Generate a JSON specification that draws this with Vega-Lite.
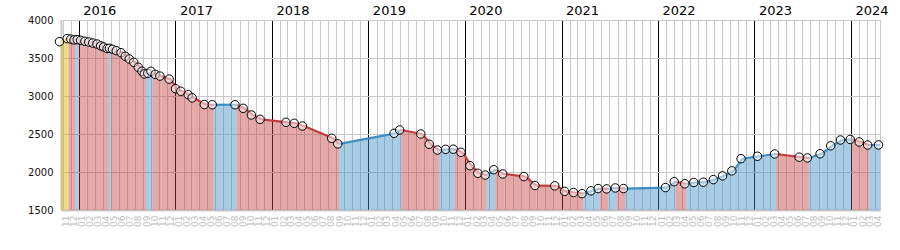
{
  "$schema": "https://vega.github.io/schema/vega-lite/v6.json",
  "width": 819,
  "height": 190,
  "autosize": {"type": "none"},
  "padding": {"left": 61, "top": 20, "right": 20, "bottom": 40},
  "background": "white",
  "config": {
    "font": "DejaVu Sans",
    "view": {"stroke": "#c8c8c8", "strokeWidth": 1},
    "axis": {"gridColor": "#c8c8c8", "gridWidth": 1, "ticks": false, "labelFont": "DejaVu Sans"}
  },
  "data": {
    "format": {"parse": {"d": "date"}},
    "values": [
      {"d": "2015-10-26", "v": 3715},
      {"d": "2015-11-24", "v": 3755},
      {"d": "2015-12-08", "v": 3748},
      {"d": "2015-12-20", "v": 3738},
      {"d": "2016-01-01", "v": 3742},
      {"d": "2016-01-14", "v": 3733},
      {"d": "2016-01-30", "v": 3720},
      {"d": "2016-02-14", "v": 3710},
      {"d": "2016-02-29", "v": 3697},
      {"d": "2016-03-16", "v": 3684},
      {"d": "2016-03-30", "v": 3660},
      {"d": "2016-04-10", "v": 3645},
      {"d": "2016-04-23", "v": 3625},
      {"d": "2016-05-02", "v": 3628},
      {"d": "2016-05-14", "v": 3615},
      {"d": "2016-05-28", "v": 3596},
      {"d": "2016-06-15", "v": 3570},
      {"d": "2016-07-01", "v": 3522},
      {"d": "2016-07-16", "v": 3487},
      {"d": "2016-08-02", "v": 3443},
      {"d": "2016-08-19", "v": 3378},
      {"d": "2016-09-02", "v": 3325},
      {"d": "2016-09-11", "v": 3290},
      {"d": "2016-09-24", "v": 3298},
      {"d": "2016-10-06", "v": 3325},
      {"d": "2016-10-22", "v": 3285},
      {"d": "2016-11-09", "v": 3262},
      {"d": "2016-12-14", "v": 3222},
      {"d": "2017-01-07", "v": 3096},
      {"d": "2017-01-27", "v": 3062},
      {"d": "2017-02-24", "v": 3017},
      {"d": "2017-03-11", "v": 2975},
      {"d": "2017-04-26", "v": 2888},
      {"d": "2017-05-26", "v": 2885},
      {"d": "2017-08-20", "v": 2885},
      {"d": "2017-09-20", "v": 2838},
      {"d": "2017-10-21", "v": 2750},
      {"d": "2017-11-23", "v": 2693},
      {"d": "2018-03-01", "v": 2654},
      {"d": "2018-04-01", "v": 2641},
      {"d": "2018-05-02", "v": 2605},
      {"d": "2018-08-21", "v": 2443},
      {"d": "2018-09-13", "v": 2370},
      {"d": "2019-04-14", "v": 2509},
      {"d": "2019-05-05", "v": 2553},
      {"d": "2019-07-24", "v": 2500},
      {"d": "2019-08-25", "v": 2365},
      {"d": "2019-09-25", "v": 2289},
      {"d": "2019-10-26", "v": 2298},
      {"d": "2019-11-24", "v": 2300},
      {"d": "2019-12-23", "v": 2259},
      {"d": "2020-01-26", "v": 2083},
      {"d": "2020-02-25", "v": 1983},
      {"d": "2020-03-24", "v": 1960},
      {"d": "2020-04-25", "v": 2030},
      {"d": "2020-05-29", "v": 1974},
      {"d": "2020-08-17", "v": 1940},
      {"d": "2020-09-28", "v": 1822},
      {"d": "2020-12-12", "v": 1818},
      {"d": "2021-01-18", "v": 1745},
      {"d": "2021-02-21", "v": 1730},
      {"d": "2021-03-25", "v": 1715},
      {"d": "2021-04-28", "v": 1752},
      {"d": "2021-05-25", "v": 1782},
      {"d": "2021-06-26", "v": 1778},
      {"d": "2021-07-29", "v": 1790},
      {"d": "2021-08-29", "v": 1782},
      {"d": "2022-02-04", "v": 1795},
      {"d": "2022-03-09", "v": 1873},
      {"d": "2022-04-18", "v": 1845},
      {"d": "2022-05-22", "v": 1862},
      {"d": "2022-06-27", "v": 1866},
      {"d": "2022-08-04", "v": 1900},
      {"d": "2022-09-08", "v": 1949},
      {"d": "2022-10-13", "v": 2015},
      {"d": "2022-11-17", "v": 2175},
      {"d": "2023-01-18", "v": 2207},
      {"d": "2023-03-24", "v": 2237},
      {"d": "2023-06-25", "v": 2195},
      {"d": "2023-07-26", "v": 2185},
      {"d": "2023-09-12", "v": 2240},
      {"d": "2023-10-22", "v": 2345},
      {"d": "2023-11-28", "v": 2421},
      {"d": "2024-01-04", "v": 2428},
      {"d": "2024-02-07", "v": 2395},
      {"d": "2024-03-10", "v": 2355},
      {"d": "2024-04-20", "v": 2356}
    ]
  },
  "layer": [
    {
      "transform": [
        {"window": [{"op": "lead", "field": "d", "as": "nd"}, {"op": "lead", "field": "v", "as": "nv"}, {"op": "row_number", "as": "idx"}], "sort": [{"field": "d"}]},
        {"filter": "datum.nd != null"},
        {"calculate": "datum.idx == 1 ? 'start' : (datum.nv < datum.v ? 'down' : 'up')", "as": "dir"},
        {"fold": ["d", "nd"], "as": ["k", "t"]},
        {"calculate": "datum.k == 'd' ? datum.v : datum.nv", "as": "yv"}
      ],
      "mark": {"type": "area", "opacity": 0.45, "line": {"strokeWidth": 2.2}},
      "encoding": {
        "x": {
          "field": "t", "type": "temporal", "title": null,
          "scale": {"type": "utc", "nice": false},
          "axis": {
            "orient": "bottom", "format": "%m", "tickCount": {"interval": "month", "step": 1},
            "labelAngle": 270, "labelFontSize": 9, "labelColor": "#bcbcbc", "labelPadding": 5,
            "labelOffset": 3, "labelOverlap": false, "labelFlush": false, "labelBound": false,
            "grid": true, "gridColor": "#c8c8c8", "domainColor": "#c8c8c8", "domainWidth": 2
          }
        },
        "y": {
          "field": "yv", "type": "quantitative", "title": null,
          "scale": {"domain": [1500, 4000], "nice": false, "zero": false},
          "axis": {
            "orient": "left", "format": "d", "values": [1500, 2000, 2500, 3000, 3500, 4000], "labelFontSize": 10, "labelColor": "#111111",
            "labelPadding": 8, "grid": true, "gridColor": "#c8c8c8", "domainColor": "#c8c8c8", "domainWidth": 2
          }
        },
        "y2": {"datum": 1500},
        "detail": {"field": "idx", "type": "quantitative"},
        "color": {
          "field": "dir", "type": "nominal",
          "scale": {"domain": ["start", "down", "up"], "range": ["#ddad00", "#c33e3e", "#3e8ec3"]},
          "legend": null
        }
      }
    },
    {
      "mark": {"type": "circle", "size": 72, "fill": "white", "fillOpacity": 0.5, "stroke": "black", "strokeWidth": 1, "opacity": 1, "xOffset": -1.5},
      "encoding": {
        "x": {
          "field": "d", "type": "temporal", "title": null,
          "axis": {
            "orient": "top", "format": "%Y", "tickCount": {"interval": "year", "step": 1},
            "labelAlign": "left", "labelOffset": 4, "labelFontSize": 13, "labelColor": "#000000",
            "labelPadding": 3, "labelFlush": false, "labelOverlap": false, "labelBound": false,
            "grid": true, "gridColor": "#000000", "gridWidth": 1, "domain": false
          }
        },
        "y": {
          "field": "v", "type": "quantitative", "title": null,
          "axis": {
            "orient": "left", "format": "d", "values": [1500, 2000, 2500, 3000, 3500, 4000], "labelFontSize": 10, "labelColor": "#111111",
            "labelPadding": 8, "grid": true, "gridColor": "#c8c8c8", "domainColor": "#c8c8c8", "domainWidth": 2
          }
        }
      }
    }
  ]
}
